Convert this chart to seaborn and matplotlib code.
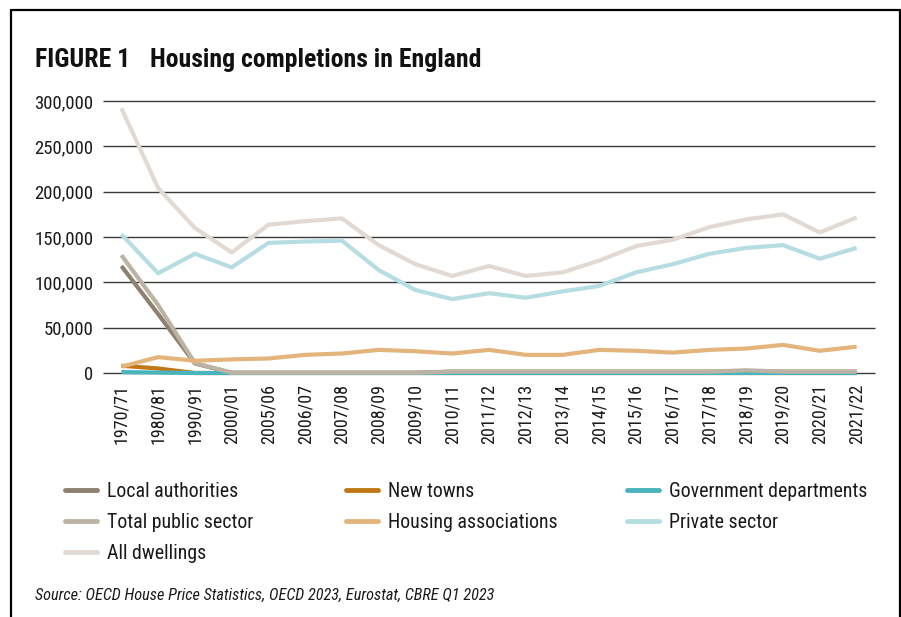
import matplotlib
matplotlib.use("Agg")
import matplotlib.pyplot as plt
from matplotlib.lines import Line2D
import seaborn as sns
import pandas as pd

categories = ['1970/71', '1980/81', '1990/91', '2000/01', '2005/06', '2006/07', '2007/08',
              '2008/09', '2009/10', '2010/11', '2011/12', '2012/13', '2013/14', '2014/15',
              '2015/16', '2016/17', '2017/18', '2018/19', '2019/20', '2020/21', '2021/22']

local_authorities = [118000, 65000, 10500, 300, 300, 300, 300, 300, 300, 1500, 1500,
                     1500, 1500, 1500, 1500, 1500, 1500, 2000, 1500, 1500, 1500]
new_towns = [8000, 5000, 0, 0, 0, 0, 0, 0, 0, 0, 0, 0, 0, 0, 0, 0, 0, 0, 0, 0, 0]
government_departments = [1000, 500, 0, 0, 0, 0, 0, 0, 0, 0, 0, 0, 0, 0, 0, 0, 0, 0, 0, 0, 0]
total_public_sector = [130000, 75000, 11000, 300, 300, 300, 300, 300, 300, 1500, 1500,
                       1500, 1500, 1500, 1500, 1500, 1500, 3000, 1500, 1500, 1500]
housing_associations = [7000, 17500, 13500, 15000, 16000, 20000, 21500, 25500, 24000, 21500,
                        25500, 20000, 20000, 25500, 24500, 22500, 25500, 27000, 31000, 24500, 29000]
private_sector = [153000, 110000, 131500, 116500, 143500, 145000, 146000, 113500, 91500, 81500,
                  88000, 83000, 90000, 96000, 111000, 120000, 131500, 138000, 141000, 126000, 138000]
all_dwellings = [292000, 204000, 160000, 133000, 163500, 167500, 170500, 141000, 120000, 107000,
                 118000, 107000, 111000, 124000, 140000, 147000, 161000, 169500, 175000, 155000, 171500]

series_names = ['Local authorities', 'New towns', 'Government departments',
                'Total public sector', 'Housing associations', 'Private sector', 'All dwellings']
series_values = [local_authorities, new_towns, government_departments, total_public_sector,
                 housing_associations, private_sector, all_dwellings]
colors = ['#8e816f', '#c07816', '#4ab4bc', '#bcb3a5', '#e3b57d', '#b5dde2', '#e2dad2']

y_ticks = [0, 50000, 100000, 150000, 200000, 250000, 300000]

rows = []
for name, vals in zip(series_names, series_values):
    for i, (c, v) in enumerate(zip(categories, vals)):
        rows.append({'idx': i, 'Year': c, 'Series': name, 'Value': v})
df = pd.DataFrame(rows)

sns.set_theme(style="white")
plt.rcParams['font.family'] = ['Roboto Condensed', 'Archivo Narrow', 'IBM Plex Sans Condensed',
                               'DejaVu Sans']

fig = plt.figure(figsize=(9.01, 6.17), dpi=100)
ax = fig.add_axes([103 / 901, 1 - 373 / 617, 772 / 901, 272 / 617])

for y in y_ticks:
    ax.axhline(y, color='#3a3a3a', lw=1.0, zorder=0)

pal = dict(zip(series_names, colors))
sns.lineplot(data=df, x='idx', y='Value', hue='Series', hue_order=series_names,
             palette=pal, linewidth=3.0, ax=ax, legend=False, sort=False)
for line in ax.get_lines():
    line.set_clip_on(False)
    line.set_solid_capstyle('butt')

ax.set_xlim(-0.5, 20.5)
ax.set_ylim(0, 300000)
ax.set_xticks(range(len(categories)))
ax.set_xticklabels(categories, rotation=90, fontsize=13, color='#1a1a1a')
ax.set_yticks(y_ticks)
ax.set_yticklabels([f"{v:,}" for v in y_ticks], fontsize=13.5, color='#1a1a1a')
ax.tick_params(axis='both', length=0)
ax.tick_params(axis='y', pad=7)
ax.tick_params(axis='x', pad=8)
ax.set_xlabel('')
ax.set_ylabel('')
for s in ax.spines.values():
    s.set_visible(False)

columns = [['Local authorities', 'Total public sector', 'All dwellings'],
           ['New towns', 'Housing associations'],
           ['Government departments', 'Private sector']]
col_x = [65 / 901, 346 / 901, 627 / 901]
for cx, col in zip(col_x, columns):
    hs = [Line2D([], [], color=pal[name], lw=3.5, solid_capstyle='round') for name in col]
    leg = fig.legend(hs, col, loc='upper left', bbox_to_anchor=(cx, 1 - 482 / 617),
                     frameon=False, fontsize=14.3, handlelength=1.6, handletextpad=0.5,
                     labelspacing=0.6, borderaxespad=0, borderpad=0)
    for t in leg.get_texts():
        t.set_color('#1a1a1a')

fig.text(35 / 901, 1 - 67 / 617, 'FIGURE 1', fontsize=18.5, fontweight='bold',
         color='#111111', va='baseline', ha='left')
fig.text(150 / 901, 1 - 67 / 617, 'Housing completions in England', fontsize=18.5,
         fontweight='bold', color='#111111', va='baseline', ha='left')
fig.text(35 / 901, 1 - 595 / 617,
         'Source: OECD House Price Statistics, OECD 2023, Eurostat, CBRE Q1 2023',
         fontsize=11.7, style='italic', color='#1a1a1a', va='center', ha='left')

# frame around figure (left, top, right)
fig.add_artist(Line2D([11 / 901, 11 / 901], [0, 1 - 10 / 617], color='black', lw=1.6,
                      transform=fig.transFigure))
fig.add_artist(Line2D([11 / 901, 900 / 901], [1 - 10 / 617, 1 - 10 / 617], color='black',
                      lw=1.6, transform=fig.transFigure))
fig.add_artist(Line2D([900 / 901, 900 / 901], [0, 1 - 10 / 617], color='black', lw=1.6,
                      transform=fig.transFigure))

fig.savefig('out.png', dpi=100)
